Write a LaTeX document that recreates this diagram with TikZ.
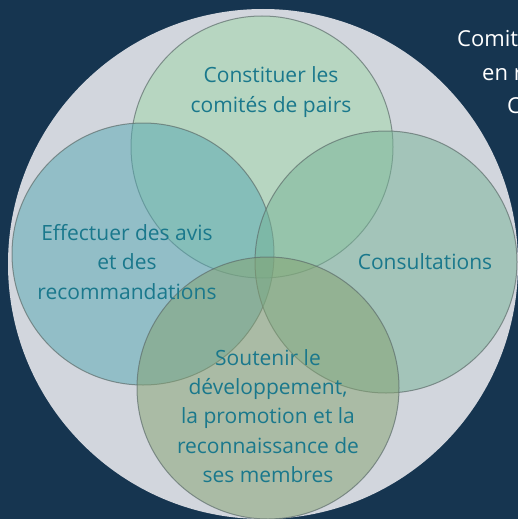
\documentclass[tikz,border=0pt]{standalone}
\usepackage{fontspec}
\setmainfont{Open Sans}
\usepackage{xcolor}
\definecolor{navy}{HTML}{163550}
\definecolor{bigdisc}{HTML}{D2D6DD}
\definecolor{ringline}{HTML}{5E6E6C}
\definecolor{labeltext}{HTML}{1A788C}
\definecolor{pairsfill}{HTML}{9ED6A7}
\definecolor{avisfill}{HTML}{54A8B3}
\definecolor{consultfill}{HTML}{76B497}
\definecolor{soutienfill}{HTML}{84A26F}

\begin{document}
\begin{tikzpicture}[x=1pt,y=-1pt,
    ring/.style={circle,minimum size=262pt,inner sep=0pt,
      draw=ringline,draw opacity=.7,line width=1pt,fill opacity=.5},
    lbl/.style={text=labeltext,align=center,
      font=\fontsize{21}{29.3}\selectfont},
    sidetxt/.style={anchor=base west,text=white,inner sep=0pt,
      font=\fontsize{22}{33}\selectfont}]
  \clip (0,0) rectangle (518,519);
  \fill[navy] (0,0) rectangle (518,519);

  % side title, cut by the frame
  \node (comit) [sidetxt] at (457,47) {Comit};
  \node (enr) [sidetxt] at (482,80) {en r};
  \node (cc) [sidetxt] at (507,113) {C};

  % big disc and the four rings
  \node (world) [circle,fill=bigdisc,minimum size=510pt,inner sep=0pt] at (263,264) {};
  \node (pairs) [ring,fill=pairsfill] at (262,147) {};
  \node (avis) [ring,fill=avisfill] at (143,254) {};
  \node (consult) [ring,fill=consultfill] at (386,262) {};
  \node (soutien) [ring,fill=soutienfill] at (268,388) {};

  % labels
  \node (pairst) [lbl] at (271,92) {Constituer les\\comités de pairs};
  \node (avist) [lbl] at (127,262) {Effectuer des avis\\et des\\recommandations};
  \node (consultt) [lbl] at (425,262) {Consultations};
  \node (soutient) [lbl] at (268,416) {Soutenir le\\développement,\\la promotion et la\\reconnaissance de\\ses membres};
\end{tikzpicture}
\end{document}
